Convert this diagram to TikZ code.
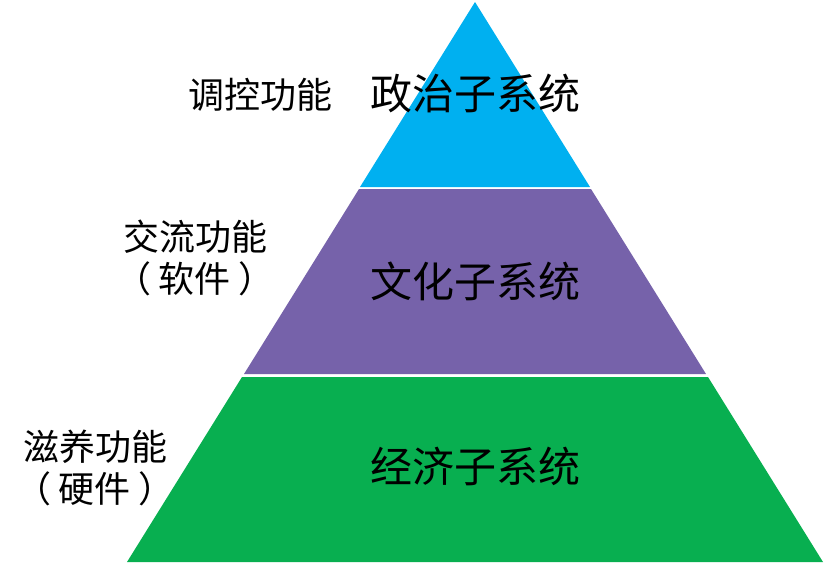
\documentclass[tikz,border=0pt]{standalone}
\usepackage{fontspec}
\setmainfont{Noto Sans CJK SC}
\usepackage{xcolor}
\usepackage{tikz}
\usetikzlibrary{positioning}
\definecolor{topblue}{RGB}{0,176,240}
\definecolor{midpurple}{RGB}{118,98,170}
\definecolor{botgreen}{RGB}{8,175,80}

\begin{document}
\begin{tikzpicture}[x=0.75pt, y=-0.75pt,
    level/.style={font=\fontsize{31.5}{36}\selectfont},
    role/.style={font=\fontsize{27}{32}\selectfont, align=center},
]
\useasboundingbox (0,0) rectangle (827,564);
% pyramid layers
\fill[topblue] (475,2) -- (590,187) -- (360,187) -- cycle;
\fill[midpurple] (359,189) -- (591,189) -- (706,374) -- (244,374) -- cycle;
\fill[botgreen] (242,377) -- (708,377) -- (823,562) -- (127,562) -- cycle;

\node[level] (pol) at (475,93) {政治子系统};
\node[level] (cul) at (475,281) {文化子系统};
\node[level] (eco) at (475,466) {经济子系统};

\node[role] (ctrl) at (260,95) {调控功能};
\node[role] (comm) at (195,258) {交流功能\\（\hspace{0.2em}软件\hspace{0.2em}）};
\node[role] (nour) at (95,468) {滋养功能\\（\hspace{0.2em}硬件\hspace{0.2em}）};
\end{tikzpicture}
\end{document}
